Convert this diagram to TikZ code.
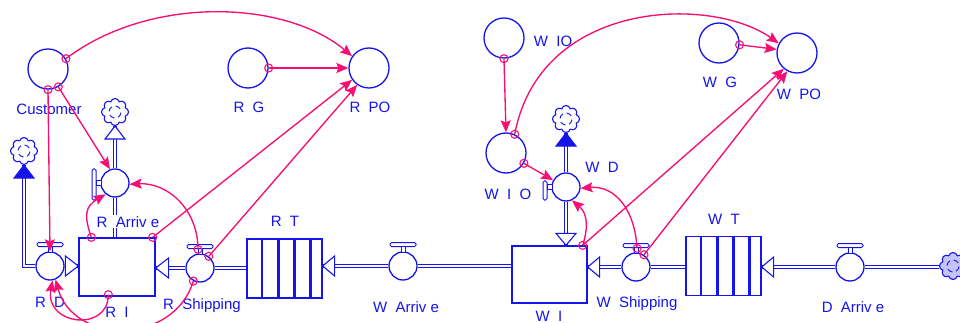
\documentclass[tikz,border=0pt]{standalone}
\usepackage{fontspec}
\setmainfont{Liberation Sans}
\usetikzlibrary{calc,arrows.meta,shapes.symbols}
\definecolor{vb}{RGB}{20,20,235}
\definecolor{mg}{RGB}{245,15,115}
\newcommand\tophandle[1]{%
  \draw[hdl, rounded corners=1.5pt] ($(#1.center)+(-13,-23.5)$) rectangle ($(#1.center)+(13,-19.5)$);
  \draw[hdl] ($(#1.center)+(-2,-19.5)$) rectangle ($(#1.center)+(2,-13.5)$);}
\newcommand\lefthandle[3]{%
  \draw[hdl, rounded corners=1.5pt] ($(#1.center)+(-23,#2)$) rectangle ($(#1.center)+(-19,#3)$);
  \draw[hdl] ($(#1.center)+(-19,-2.5)$) rectangle ($(#1.center)+(-13.5,2.5)$);}
\tikzset{
  lbl/.style={text=vb, font=\fontsize{15}{18}\selectfont, inner sep=0pt, anchor=base},
  aux/.style={circle, draw=vb, line width=1.3pt, minimum size=40pt, inner sep=0pt},
  valve/.style={circle, draw=vb, line width=1.3pt, minimum size=28pt, inner sep=0pt, fill=white},
  stock/.style={rectangle, draw=vb, line width=1.3pt, minimum width=76pt, minimum height=58pt, inner sep=0pt, fill=white},
  conv/.style={rectangle, draw=vb, line width=1.3pt, minimum width=75pt, minimum height=59pt, inner sep=0pt, fill=white},
  convline/.style={draw=vb, line width=2.2pt},
  pipe/.style={draw=vb, line width=1pt, double=white, double distance=2pt},
  otri/.style={draw=vb, line width=1.1pt, fill=white, line join=miter},
  ftri/.style={draw=vb, line width=1pt, fill=vb},
  hdl/.style={draw=vb, line width=1pt, fill=white},
  conn/.style={draw=mg, line width=1.35pt, -{Stealth[length=12pt, width=10pt, inset=2pt]}},
  ocirc/.style={circle, draw=mg, line width=1.1pt, minimum size=8pt, inner sep=0pt},
  cloudn/.style={cloud, cloud puffs=8, aspect=1, draw=vb, line width=1.1pt,
    minimum width=27pt, minimum height=27pt, inner sep=0pt, fill=white,
    path picture={\foreach \a in {30,120,210,300}{\draw[vb, line width=0.9pt]
      ($(path picture bounding box.center)+(\a:6pt)$) arc[start angle=\a, end angle=\a+55, radius=6pt];}}},
}
\begin{document}
\begin{tikzpicture}[x=1pt, y=-1pt]
\useasboundingbox (0,0) rectangle (960,323);
% auxiliaries
\node[aux] (cust) at (48,69) {};
\node[aux] (rg) at (248,68) {};
\node[aux] (rpo) at (369,68) {};
\node[aux] (wio) at (504,38) {};
\node[aux] (wio2) at (506,153) {};
\node[aux] (wg) at (719,43) {};
\node[aux] (wpo) at (797,53) {};
% stocks and conveyors
\node[stock] (ri) at (117,267) {};
\node[stock, minimum width=75pt, minimum height=57pt] (wi) at (549.5,274.5) {};
\node[conv] (rt) at (284.5,268.5) {};
\node[conv] (wt) at (723.5,266) {};
\foreach \f in {0.21,0.42,0.63,0.84}{
  \draw[convline] ($(rt.north west)!\f!(rt.north east)$) -- ($(rt.south west)!\f!(rt.south east)$);
  \draw[convline] ($(wt.north west)!\f!(wt.north east)$) -- ($(wt.south west)!\f!(wt.south east)$);
}
% valves
\node[valve] (rd) at (50,266) {};
\node[valve] (rarr) at (115,183) {};
\node[valve] (rsh) at (200,268) {};
\node[valve] (wa) at (403,266) {};
\node[valve] (wd) at (566,187) {};
\node[valve] (wsh) at (636,267) {};
\node[valve] (da) at (850,267) {};
% clouds
\node[cloudn] (lc) at (24,151) {};
\node[cloudn] (rac) at (115,112) {};
\node[cloudn] (wdc) at (566,119) {};
\node[cloudn, fill=vb!25] (rc) at (953,266) {};
% pipes
\draw[pipe] (rd.west) -| (lc.south);
\draw[pipe] (rd.east) -- (rd.east -| ri.west);
\draw[pipe] (rsh.west) -- (rsh.west -| ri.east);
\draw[pipe] (rsh.east) -- (rsh.east -| rt.west);
\draw[pipe] (wa.west) -- (wa.west -| rt.east);
\draw[pipe] (wa.east) -- (wa.east -| wi.west);
\draw[pipe] (wsh.west) -- (wsh.west -| wi.east);
\draw[pipe] (wsh.east) -- (wsh.east -| wt.west);
\draw[pipe] (da.west) -- (da.west -| wt.east);
\draw[pipe] (da.east) -- (da.east -| rc.west);
\draw[pipe] (rarr.north) -- (rac.south);
\draw[pipe] (rarr.south) -- (rarr.south |- ri.north);
\draw[pipe] (wd.north) -- (wdc.south);
\draw[pipe] (wd.south) -- (wd.south |- wi.north);
% flow arrowheads
\draw[otri] (rd.east -| ri.west) -- ++(-13,-10) -- ++(0,20) -- cycle;
\draw[otri] (rsh.west -| ri.east) -- ++(13,-10) -- ++(0,20) -- cycle;
\draw[otri] (wa.west -| rt.east) -- ++(12,-10) -- ++(0,20) -- cycle;
\draw[otri] (wsh.west -| wi.east) -- ++(12,-10) -- ++(0,20) -- cycle;
\draw[otri] (da.west -| wt.east) -- ++(12,-10) -- ++(0,20) -- cycle;
\draw[otri] (rac.south) -- ++(-10,13) -- ++(20,0) -- cycle;
\draw[otri] (wd.south |- wi.north) -- ++(-10,-12) -- ++(20,0) -- cycle;
\draw[ftri] (lc.south) -- ++(-10,13) -- ++(20,0) -- cycle;
\draw[ftri] (wdc.south) -- ++(-10,13) -- ++(20,0) -- cycle;
% valve handles
\tophandle{rd}
\tophandle{rsh}
\tophandle{wa}
\tophandle{wsh}
\tophandle{da}
\lefthandle{rarr}{-14}{17}
\lefthandle{wd}{-6}{13}
% labels
\node[lbl] (t1) at (49,115) {Customer};
\node[lbl] (t2) at (249,113) {R~~G};
\node[lbl] (t3) at (370,113) {R~~PO};
\node[lbl, fill=white, inner sep=1pt] (t4) at (128,227) {R~~Arriv e};
\node[lbl] (t5) at (285,226) {R~~T};
\node[lbl] (t6) at (50,307) {R~~D};
\node[lbl] (t7) at (117,317) {R~~I};
\node[lbl] (t8) at (202,309) {R~~Shipping};
\node[lbl] (t9) at (406,312) {W~~Arriv e};
\node[lbl] (t10) at (549,321) {W~~I};
\node[lbl] (t11) at (637,307) {W~~Shipping};
\node[lbl] (t12) at (724,224) {W~~T};
\node[lbl] (t13) at (853,312) {D~~Arriv e};
\node[lbl] (t14) at (602,172) {W~~D};
\node[lbl] (t15) at (508,199) {W~~I~~O};
\node[lbl] (t16) at (553,47) {W~~IO};
\node[lbl] (t17) at (720,88) {W~~G};
\node[lbl] (t18) at (799,100) {W~~PO};
% connector origins
\coordinate (c5) at ($(ri.north east)+(-3,0)$);
\coordinate (c7) at ($(ri.north west)+(13,0)$);
\coordinate (c8) at ($(rsh.north)+(-2,-4)$);
\coordinate (c10) at ($(ri.south west)+(30,-2)$);
\coordinate (c15) at ($(wi.north east)+(-5,0)$);
\coordinate (c17) at ($(wsh.north)+(1,-4)$);
% connectors
\draw[conn] (cust.30) .. controls (150,-5) and (285,0) .. (rpo.145);
\draw[conn] (rg.east) -- (rpo.west);
\draw[conn] (cust.south) -- (rd.north);
\draw[conn] (cust.-60) -- (rarr.110);
\draw[conn] (c5) -- (rpo.-145);
\draw[conn] (rsh.53) -- (rpo.-125);
\draw[conn] (c7) .. controls +(-8,-23) and +(-20,12) .. (rarr.-130);
\draw[conn] (c8) .. controls +(0,-40) and +(38,-2) .. (rarr.-5);
\draw[conn] (rsh.-117) .. controls +(-20,65) and +(18,65) .. (rd.-68);
\draw[conn] (c10) .. controls +(0,38) and +(-8,45) .. (rd.-80);
\draw[conn] (wio.south) -- (wio2.north);
\draw[conn] (wio2.65) .. controls (540,0) and (710,-5) .. (wpo.152);
\draw[conn] (wg.-5) -- (wpo.170);
\draw[conn] (wio2.-30) -- (wd.152);
\draw[conn] (c15) .. controls +(8,-25) and +(12,10) .. (wd.-66);
\draw[conn] (c15) -- (wpo.-130);
\draw[conn] (c17) .. controls +(-2,-38) and +(35,-3) .. (wd.-5);
\draw[conn] (wsh.57) -- (wpo.-118);
% origin marks
\node[ocirc] (o1) at (cust.30) {};
\node[ocirc] (o2) at (rg.east) {};
\node[ocirc] (o3) at (cust.south) {};
\node[ocirc] (o4) at (cust.-60) {};
\node[ocirc] (o5) at (c5) {};
\node[ocirc] (o6) at (rsh.53) {};
\node[ocirc] (o7) at (c7) {};
\node[ocirc] (o8) at (c8) {};
\node[ocirc] (o9) at (rsh.-117) {};
\node[ocirc] (o10) at (c10) {};
\node[ocirc] (o11) at (wio.south) {};
\node[ocirc] (o12) at (wio2.65) {};
\node[ocirc] (o13) at (wg.-5) {};
\node[ocirc] (o14) at (wio2.-30) {};
\node[ocirc] (o15) at (c15) {};
\node[ocirc] (o16) at (c17) {};
\node[ocirc] (o17) at (wsh.57) {};
\end{tikzpicture}
\end{document}
